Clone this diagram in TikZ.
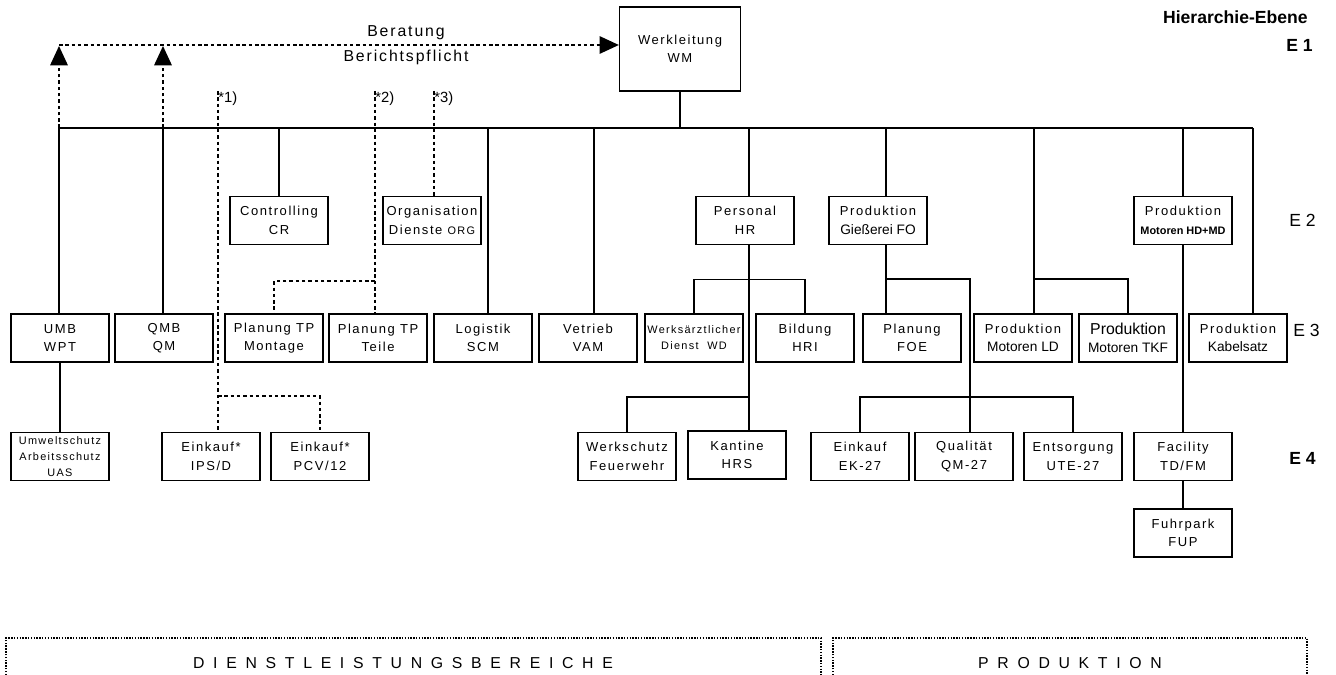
\documentclass[tikz,border=0pt]{standalone}
\usepackage{fontspec}
\setmainfont{Liberation Sans}
\newfontfamily\boxfont[LetterSpace=12]{Liberation Sans}
\newfontfamily\tightfont{Liberation Sans}
\newfontfamily\widefont[LetterSpace=55]{Liberation Sans}
\usetikzlibrary{arrows.meta}

\begin{document}
\begin{tikzpicture}[x=0.02cm, y=-0.02cm]
\tikzstyle{box}=[draw, line width=0.75pt, align=center, inner sep=0pt,
  minimum width=1.96cm, minimum height=0.96cm,
  font=\boxfont\fontsize{7.4}{10.5}\selectfont]
\tikzstyle{small}=[font=\boxfont\fontsize{6.2}{9}\selectfont]
\tikzstyle{line}=[line width=0.75pt]
\tikzstyle{dashline}=[line width=0.75pt, dash pattern=on 2pt off 1.6pt]
\tikzstyle{dotline}=[line width=0.6pt, dash pattern=on 0.8pt off 0.8pt]
\tikzstyle{tip}=[-{Triangle[length=11pt, width=10pt]}]
\tikzstyle{note}=[anchor=north west, inner sep=0pt, font=\fontsize{8.4}{9}\selectfont]
\tikzstyle{ebene}=[anchor=east, inner sep=0pt, font=\fontsize{10}{12}\selectfont]

\useasboundingbox (0,0) rectangle (1336,675);

% E 1
\node(wm)[box, minimum width=2.42cm, minimum height=1.68cm] at (680,49) {Werkleitung\\WM};

% E 2
\node(cr)[box]   at (279,220.5) {Controlling\\CR};
\node(org)[box]  at (432,220.5)   {Organisation\\Dienste {\fontsize{6.2}{9}\selectfont ORG}};
\node(hr)[box]   at (745,220.5) {Personal\\HR};
\node(fo)[box]   at (878,220.5)   {Produktion\\{\tightfont\fontsize{7.8}{10.5}\selectfont Gießerei FO}};
\node(hdmd)[box] at (1183,220.5) {Produktion\\{\tightfont\bfseries\fontsize{6.2}{10.5}\selectfont Motoren HD+MD}};

% E 3
\node(umb)[box] at (60,338)     {UMB\\WPT};
\node(qmb)[box] at (164,338)    {QMB\\QM};
\node(tpm)[box] at (274,338)    {Planung TP\\Montage};
\node(tpt)[box] at (378,338)    {Planung TP\\Teile};
\node(scm)[box] at (483,338)    {Logistik\\SCM};
\node(vam)[box] at (588,338)    {Vetrieb\\VAM};
\node(wd)[box, small] at (694,338) {Werksärztlicher\\Dienst\ \ WD};
\node(hri)[box] at (805,338)    {Bildung\\HRI};
\node(foe)[box] at (912,338)    {Planung\\FOE};
\node(mld)[box] at (1023,338)   {Produktion\\{\tightfont\fontsize{7.8}{10.5}\selectfont Motoren LD}};
\node(tkf)[box] at (1128,338)   {{\tightfont\fontsize{9}{10.5}\selectfont Produktion}\\{\tightfont\fontsize{7.8}{10.5}\selectfont Motoren TKF}};
\node(kab)[box] at (1238,338)   {Produktion\\{\tightfont\fontsize{7.8}{10.5}\selectfont Kabelsatz}};

% E 4
\node(uas)[box, small] at (60,456.5) {Umweltschutz\\Arbeitsschutz\\UAS};
\node(ips)[box] at (211,456.5)    {Einkauf*\\IPS/D};
\node(pcv)[box] at (320,456.5)    {Einkauf*\\PCV/12};
\node(wfw)[box] at (627,456.5)    {Werkschutz\\Feuerwehr};
\node(hrs)[box] at (737,455)      {Kantine\\HRS};
\node(ek)[box]  at (860,456.5)    {Einkauf\\EK-27};
\node(qm)[box]  at (964,456.5)    {Qualität\\QM-27};
\node(ute)[box] at (1073,456.5)   {Entsorgung\\UTE-27};
\node(fm)[box]  at (1183,456.5)   {Facility\\TD/FM};
\node(fup)[box] at (1183,533)     {Fuhrpark\\FUP};

% Linie unter Werkleitung
\coordinate(k1) at (59,128);
\coordinate(k2) at (163,128);
\coordinate(k3) at (279,128);
\coordinate(k4) at (488,128);
\coordinate(k5) at (594,128);
\coordinate(k6) at (749,128);
\coordinate(k7) at (886,128);
\coordinate(k8) at (1034,128);
\coordinate(k9) at (1183,128);
\coordinate(k10) at (1253,128);

\draw[line] (k1) -- (k10);
\draw[line] (wm.south) -- (wm.south |- k1);
\draw[line] (k1) -- (k1 |- umb.north);
\draw[line] (k2) -- (k2 |- qmb.north);
\draw[line] (k3) -- (k3 |- cr.north);
\draw[line] (k4) -- (k4 |- scm.north);
\draw[line] (k5) -- (k5 |- vam.north);
\draw[line] (k6) -- (k6 |- hr.north);
\draw[line] (k7) -- (k7 |- fo.north);
\draw[line] (k8) -- (k8 |- mld.north);
\draw[line] (k9) -- (k9 |- hdmd.north);
\draw[line] (k10) -- (k10 |- kab.north);

% Personal
\draw[line] (k6 |- hr.south) -- (k6 |- hrs.north);
\draw[line] (wd.north) -- ++(0,-34) -| (hri.north);
\draw[line] (wfw.north) -- ++(0,-35) -| (k6 |- hrs.north);

% Giesserei
\coordinate(g1) at (970,279);
\draw[line] (k7 |- fo.south) -- (k7 |- foe.north);
\draw[line] (k7 |- g1) -- (g1) -- (g1 |- qm.north);
\draw[line] (ek.north) -- ++(0,-35) -| (ute.north);

% Motoren
\draw[line] (k8 |- 0,279) -| (tkf.north);
\draw[line] (hdmd.south) -- (fm.north);
\draw[line] (fm.south) -- (fup.north);
\draw[line] (umb.south) -- (uas.north);

% Beratung / Berichtspflicht
\coordinate(rb) at (59,45);
\draw[dashline, tip] (k1) -- (k1 |- 0,46);
\draw[dashline, tip] (k2) -- (k2 |- 0,46);
\draw[dashline, tip] (rb) -- (rb -| wm.west);
\node(ber)[font=\boxfont\fontsize{9}{10}\selectfont] at (406,33) {Beratung};
\node(bpf)[font=\boxfont\fontsize{9}{10}\selectfont] at (406,57) {Berichtspflicht};

% Anmerkungen
\node(n1)[note] at (218,91) {*1)};
\node(n2)[note] at (375,91) {*2)};
\node(n3)[note] at (434,91) {*3)};
\draw[dashline] (n1.north west) -- (n1.north west |- ips.north);
\draw[dashline] (n1.north west |- 0,396) -| (pcv.north);
\draw[dashline] (n2.north west) -- (n2.north west |- tpt.north);
\draw[dashline] (n2.north west |- 0,281) -| (tpm.north);
\draw[dashline] (n3.north west) -- (n3.north west |- org.north);

% Ebenen
\node(heb)[ebene, font=\bfseries\fontsize{10}{12}\selectfont] at (1308,17) {Hierarchie-Ebene};
\node(e1)[ebene, font=\bfseries\fontsize{10}{12}\selectfont] at (1313,45) {E 1};
\node(e2)[ebene] at (1316,220) {E 2};
\node(e3)[ebene] at (1320,330) {E 3};
\node(e4)[ebene, font=\bfseries\fontsize{10}{12}\selectfont] at (1316,458) {E 4};

% Bereiche
\draw[dotline] (6,675) -- (6,638) -- (821,638) -- (821,675);
\draw[dotline] (833,675) -- (833,638) -- (1307,638) -- (1307,675);
\node(dl)[font=\widefont\fontsize{9}{10}\selectfont] at (403,663) {DIENSTLEISTUNGSBEREICHE};
\node(pr)[font=\widefont\fontsize{9}{10}\selectfont] at (1070,663) {PRODUKTION};

\end{tikzpicture}
\end{document}
